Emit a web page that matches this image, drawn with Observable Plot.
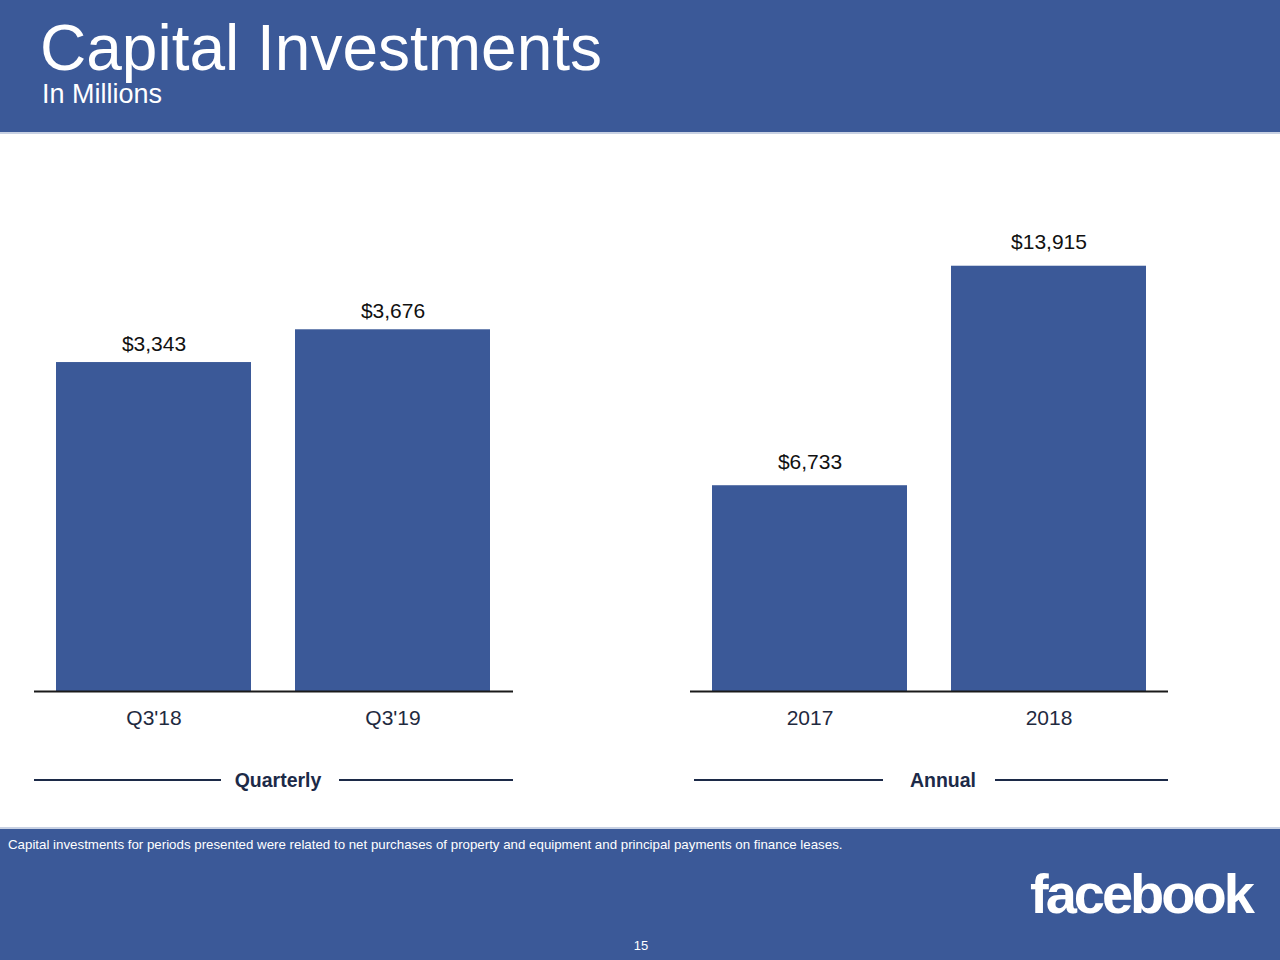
<!DOCTYPE html>
<html><head><meta charset="utf-8">
<script src="https://cdn.jsdelivr.net/npm/d3@7"></script>
<script src="https://cdn.jsdelivr.net/npm/@observablehq/plot@0.6"></script>
<style>
html,body{margin:0;padding:0;}
body{width:1280px;height:960px;position:relative;overflow:hidden;background:#fff;font-family:"Liberation Sans",Arial,sans-serif;}
.abs{position:absolute;line-height:1;white-space:nowrap;}
.band{position:absolute;left:0;width:1280px;background:#3b5998;}
.rule{position:absolute;height:2px;background:#1c2a48;}
.sec{position:absolute;line-height:1;white-space:nowrap;font-weight:bold;font-size:19.5px;color:#1c2a48;transform:translateX(-50%);}
</style></head><body>
<div class="band" style="top:0;height:132px;"></div>
<div style="position:absolute;left:0;top:132px;width:1280px;height:2px;background:#c8d1e3;"></div>
<div class="abs" style="left:40px;top:16px;font-size:64px;color:#fff;">Capital Investments</div>
<div class="abs" style="left:42px;top:81px;font-size:27px;color:#fff;">In Millions</div>

<div id="left" style="position:absolute;left:34px;top:150px;"></div>
<div id="right" style="position:absolute;left:690px;top:150px;"></div>

<div class="rule" style="left:34px;top:779px;width:187px;"></div>
<div class="rule" style="left:339px;top:779px;width:174px;"></div>
<div class="sec" style="left:278px;top:771px;">Quarterly</div>
<div class="rule" style="left:694px;top:779px;width:189px;"></div>
<div class="rule" style="left:995px;top:779px;width:173px;"></div>
<div class="sec" style="left:943px;top:771px;">Annual</div>

<div style="position:absolute;left:0;top:827px;width:1280px;height:2px;background:#c8d1e3;"></div>
<div class="band" style="top:829px;height:131px;"></div>
<div class="abs" style="left:8px;top:838px;font-size:13.3px;color:#fff;">Capital investments for periods presented were related to net purchases of property and equipment and principal payments on finance leases.</div>
<div class="abs" style="left:1030px;top:866px;font-size:56px;font-weight:bold;letter-spacing:-3px;color:#fff;">facebook</div>
<div class="abs" style="left:641px;top:939px;font-size:13px;color:#fff;transform:translateX(-50%);">15</div>

<script>
const quarterlyLabels = ["Q3'18", "Q3'19"];
const quarterlyValues = [3343, 3676];
const annualLabels = ["2017", "2018"];
const annualValues = [6733, 13915];

const fmt = d3.format(",");

function panel(labels, values, yMax, marginTop, width, labelDy) {
  const data = labels.map((label, i) => ({label, value: values[i]}));
  return Plot.plot({
    width, height: 600,
    marginLeft: 0, marginRight: 0, marginTop, marginBottom: 59,
    style: {fontFamily: "'Liberation Sans', Arial, sans-serif", fontSize: "21px", color: "#1f2a3f", background: "transparent", overflow: "visible"},
    x: {domain: labels, paddingInner: 0.183, paddingOuter: 0.09, label: null, tickSize: 0, tickPadding: 19},
    y: {domain: [0, yMax], axis: null},
    marks: [
      Plot.barY(data, {x: "label", y: "value", fill: "#3b5998"}),
      Plot.ruleY([0], {stroke: "#1a1a1a", strokeWidth: 2}),
      Plot.text(data, {x: "label", y: "value", text: d => "$" + fmt(d.value), lineAnchor: "bottom", dy: labelDy, fill: "#111", fontSize: 21})
    ]
  });
}

document.getElementById("left").append(panel(quarterlyLabels, quarterlyValues, 5000, 49, 479, -12));
document.getElementById("right").append(panel(annualLabels, annualValues, 16000, 52, 478, -17));
</script>
</body></html>
